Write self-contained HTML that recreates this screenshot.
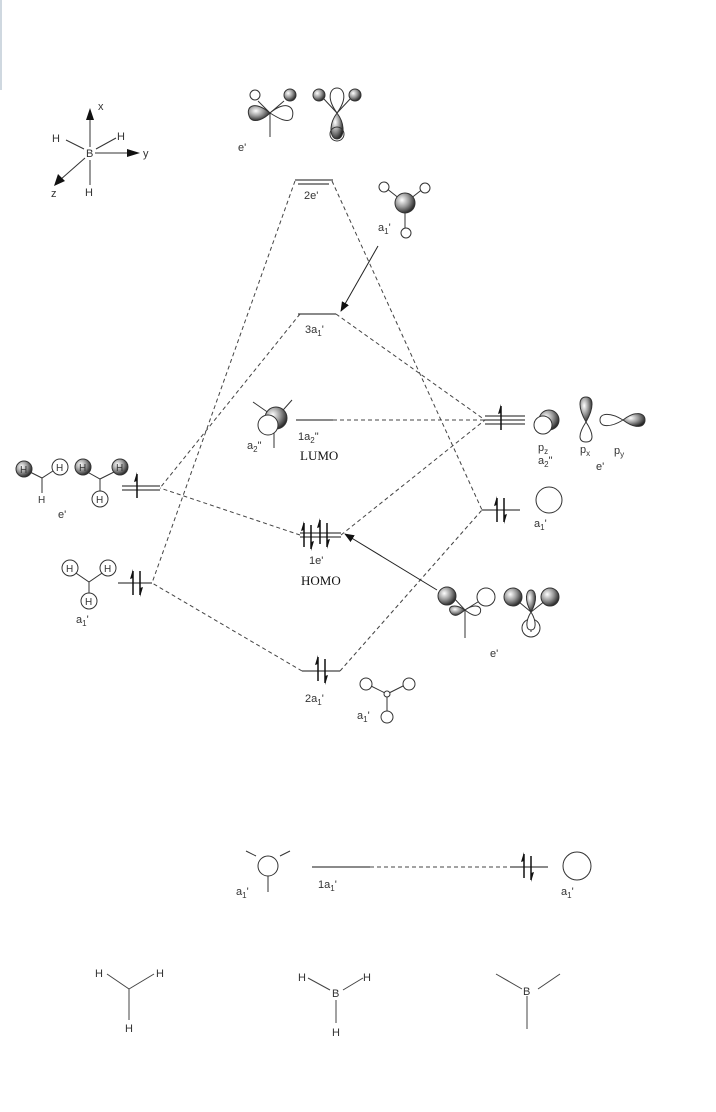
<!DOCTYPE html>
<html><head><meta charset="utf-8"><style>
html,body{margin:0;padding:0;background:#fff;}
svg{display:block;}
text{font-family:"Liberation Sans",sans-serif;font-size:11px;fill:#333;}
.s{font-family:"Liberation Serif",serif;font-size:13px;fill:#111;}
.sub{font-size:8px;}
</style></head><body>
<svg width="716" height="1112" viewBox="0 0 716 1112" xmlns="http://www.w3.org/2000/svg">
<defs>
<radialGradient id="g" cx="0.35" cy="0.35" r="0.7">
<stop offset="0" stop-color="#fff"/><stop offset="0.5" stop-color="#999"/><stop offset="1" stop-color="#222"/>
</radialGradient>
<marker id="ah" markerWidth="10" markerHeight="8" refX="9" refY="4" orient="auto" markerUnits="userSpaceOnUse">
<path d="M0,0 L10,4 L0,8 z" fill="#111"/></marker>
<g id="up"><line x1="0" y1="12" x2="0" y2="-12" stroke="#111" stroke-width="1.5"/><path d="M0,-14 L-3,-4 L0,-5 z" fill="#111"/></g>
<g id="dn"><line x1="0" y1="-12" x2="0" y2="12" stroke="#111" stroke-width="1.5"/><path d="M0,14 L3,4 L0,5 z" fill="#111"/></g>
</defs>
<rect x="0" y="0" width="2" height="90" fill="#cfd8e0"/>

<!-- axes -->
<g stroke="#333" stroke-width="1" fill="none">
<line x1="90" y1="147" x2="90" y2="118"/><line x1="95" y1="153" x2="130" y2="153"/>
<line x1="85" y1="158" x2="60" y2="180"/>
<line x1="66" y1="140" x2="84" y2="149"/><line x1="96" y1="149" x2="116" y2="138"/>
<line x1="90" y1="160" x2="90" y2="185"/>
</g>
<path d="M90,108 L86,120 L94,120z M140,153 L127,149 L127,157z M54,186 L58,174 L65,181z" fill="#111"/>
<text x="98" y="110">x</text><text x="143" y="157">y</text><text x="51" y="197">z</text>
<text x="52" y="142">H</text><text x="117" y="140">H</text><text x="86" y="157">B</text><text x="85" y="196">H</text>

<!-- dashed connectors -->
<g stroke="#444" stroke-width="1" stroke-dasharray="4,3" fill="none">
<line x1="295" y1="181" x2="152" y2="583"/>
<line x1="332" y1="181" x2="482" y2="510"/>
<line x1="300" y1="314" x2="160" y2="488"/>
<line x1="336" y1="314" x2="485" y2="420"/>
<line x1="333" y1="420" x2="485" y2="420"/>
<line x1="300" y1="535" x2="160" y2="488"/>
<line x1="341" y1="535" x2="485" y2="420"/>
<line x1="302" y1="671" x2="152" y2="583"/>
<line x1="340" y1="671" x2="482" y2="510"/>
<line x1="370" y1="867" x2="510" y2="867"/>
</g>

<!-- levels -->
<g stroke="#444" stroke-width="1.3" fill="none">
<line x1="295" y1="180" x2="333" y2="180"/><line x1="298" y1="184" x2="329" y2="184"/>
<line x1="298" y1="314" x2="336" y2="314"/>
<line x1="296" y1="420" x2="333" y2="420"/>
<line x1="485" y1="416" x2="525" y2="416"/><line x1="485" y1="420" x2="525" y2="420"/><line x1="485" y1="424" x2="525" y2="424"/>
<line x1="300" y1="533" x2="341" y2="533"/><line x1="300" y1="537" x2="341" y2="537"/>
<line x1="482" y1="510" x2="520" y2="510"/>
<line x1="302" y1="671" x2="340" y2="671"/>
<line x1="122" y1="486" x2="160" y2="486"/><line x1="122" y1="490" x2="160" y2="490"/>
<line x1="118" y1="583" x2="152" y2="583"/>
<line x1="312" y1="867" x2="370" y2="867"/>
<line x1="510" y1="867" x2="548" y2="867"/>
</g>

<!-- electrons -->
<use href="#up" x="501" y="418"/>
<use href="#up" x="137" y="486"/>
<use href="#up" x="133" y="583"/><use href="#dn" x="140" y="583"/>
<use href="#up" x="304" y="535"/><use href="#dn" x="311" y="537"/><use href="#up" x="320" y="532"/><use href="#dn" x="327" y="535"/>
<use href="#up" x="497" y="510"/><use href="#dn" x="504" y="510"/>
<use href="#up" x="318" y="669"/><use href="#dn" x="325" y="671"/>
<use href="#up" x="524" y="866"/><use href="#dn" x="531" y="868"/>

<!-- solid arrows -->
<line x1="378" y1="246" x2="341" y2="311" stroke="#222" stroke-width="1" marker-end="url(#ah)"/>
<line x1="437" y1="590" x2="345" y2="534" stroke="#222" stroke-width="1" marker-end="url(#ah)"/>

<!-- labels -->
<text x="304" y="199">2e'</text>
<text x="305" y="333">3a<tspan class="sub" dy="3">1</tspan><tspan dy="-3">'</tspan></text>
<text x="298" y="440">1a<tspan class="sub" dy="3">2</tspan><tspan dy="-3">"</tspan></text>
<text class="s" x="300" y="460">LUMO</text>
<text x="309" y="564">1e'</text>
<text class="s" x="301" y="585">HOMO</text>
<text x="305" y="702">2a<tspan class="sub" dy="3">1</tspan><tspan dy="-3">'</tspan></text>
<text x="318" y="888">1a<tspan class="sub" dy="3">1</tspan><tspan dy="-3">'</tspan></text>
<text x="238" y="151">e'</text>
<text x="378" y="231">a<tspan class="sub" dy="3">1</tspan><tspan dy="-3">'</tspan></text>
<text x="247" y="449">a<tspan class="sub" dy="3">2</tspan><tspan dy="-3">"</tspan></text>
<text x="58" y="518">e'</text>
<text x="76" y="623">a<tspan class="sub" dy="3">1</tspan><tspan dy="-3">'</tspan></text>
<text x="538" y="451">p<tspan class="sub" dy="3">z</tspan></text>
<text x="538" y="464">a<tspan class="sub" dy="3">2</tspan><tspan dy="-3">"</tspan></text>
<text x="580" y="453">p<tspan class="sub" dy="3">x</tspan></text>
<text x="614" y="454">p<tspan class="sub" dy="3">y</tspan></text>
<text x="596" y="470">e'</text>
<text x="534" y="527">a<tspan class="sub" dy="3">1</tspan><tspan dy="-3">'</tspan></text>
<text x="490" y="657">e'</text>
<text x="357" y="719">a<tspan class="sub" dy="3">1</tspan><tspan dy="-3">'</tspan></text>
<text x="236" y="895">a<tspan class="sub" dy="3">1</tspan><tspan dy="-3">'</tspan></text>
<text x="561" y="895">a<tspan class="sub" dy="3">1</tspan><tspan dy="-3">'</tspan></text>

<!-- orbitals: top e' -->
<g stroke="#333" stroke-width="1" fill="none">
<line x1="270" y1="113" x2="270" y2="137"/><line x1="270" y1="113" x2="258" y2="101"/><line x1="270" y1="113" x2="284" y2="101"/>
<path d="M270,113 C255,100 244,106 250,118 C255,124 265,118 270,113z" fill="url(#g)"/>
<path d="M270,113 C285,100 296,106 292,118 C288,124 278,118 270,113z" fill="#fff"/>
<circle cx="255" cy="95" r="5" fill="#fff"/><circle cx="290" cy="95" r="6" fill="url(#g)"/>
<line x1="337" y1="113" x2="323" y2="98"/><line x1="337" y1="113" x2="351" y2="98"/>
<path d="M337,113 C326,98 330,88 337,88 C344,88 348,98 337,113z" fill="#fff"/>
<path d="M337,113 C328,125 330,139 337,139 C344,139 346,125 337,113z" fill="url(#g)"/>
<circle cx="337" cy="134" r="7"/>
<circle cx="319" cy="95" r="6" fill="url(#g)"/><circle cx="355" cy="95" r="6" fill="url(#g)"/>
</g>
<!-- a1' top right -->
<g stroke="#333" stroke-width="1" fill="none">
<line x1="405" y1="203" x2="386" y2="188"/><line x1="405" y1="203" x2="424" y2="188"/><line x1="405" y1="203" x2="405" y2="228"/>
<circle cx="384" cy="187" r="5" fill="#fff"/><circle cx="425" cy="188" r="5" fill="#fff"/><circle cx="406" cy="233" r="5" fill="#fff"/>
<circle cx="405" cy="203" r="10" fill="url(#g)"/>
</g>
<!-- a2'' -->
<g stroke="#333" stroke-width="1" fill="none">
<line x1="276" y1="418" x2="253" y2="402"/><line x1="276" y1="418" x2="292" y2="400"/><line x1="274" y1="420" x2="274" y2="448"/>
<circle cx="276" cy="418" r="11" fill="url(#g)"/><circle cx="268" cy="425" r="10" fill="#fff"/>
</g>
<!-- pz px py -->
<g stroke="#333" stroke-width="1" fill="none">
<circle cx="549" cy="420" r="10" fill="url(#g)"/><circle cx="543" cy="425" r="9" fill="#fff"/>
<path d="M586,422 C578,408 578,397 586,397 C594,397 594,408 586,422z" fill="url(#g)"/>
<path d="M586,422 C578,434 578,442 586,442 C594,442 594,434 586,422z" fill="#fff"/>
<path d="M623,420 C610,412 600,413 600,420 C600,427 610,428 623,420z" fill="#fff"/>
<path d="M623,420 C636,410 645,413 645,420 C645,427 636,430 623,420z" fill="url(#g)"/>
<circle cx="549" cy="500" r="13"/>
</g>
<!-- H e' -->
<g stroke="#333" stroke-width="1" fill="none">
<polyline points="24,469 42,478 56,469"/><line x1="42" y1="478" x2="42" y2="493"/>
<polyline points="82,469 100,479 120,469"/><line x1="100" y1="479" x2="100" y2="493"/>
<circle cx="24" cy="469" r="8" fill="url(#g)"/><circle cx="60" cy="467" r="8" fill="#fff"/>
<circle cx="83" cy="467" r="8" fill="url(#g)"/><circle cx="120" cy="467" r="8" fill="url(#g)"/>
<circle cx="100" cy="499" r="8" fill="#fff"/>
<polyline points="70,569 89,582 108,569"/><line x1="89" y1="582" x2="89" y2="593"/>
<circle cx="70" cy="568" r="8" fill="#fff"/><circle cx="108" cy="568" r="8" fill="#fff"/><circle cx="89" cy="601" r="8" fill="#fff"/>
</g>
<g>
<text x="20" y="473" style="font-size:10px">H</text><text x="56" y="471" style="font-size:10px">H</text>
<text x="79" y="471" style="font-size:10px">H</text><text x="116" y="471" style="font-size:10px">H</text>
<text x="96" y="503" style="font-size:10px">H</text><text x="38" y="503" style="font-size:10px">H</text>
<text x="66" y="572" style="font-size:10px">H</text><text x="104" y="572" style="font-size:10px">H</text><text x="85" y="605" style="font-size:10px">H</text>
</g>
<!-- bottom e' -->
<g stroke="#333" stroke-width="1" fill="none">
<line x1="465" y1="610" x2="465" y2="638"/><line x1="465" y1="610" x2="452" y2="596"/><line x1="465" y1="610" x2="481" y2="600"/>
<path d="M465,610 C455,603 446,606 451,613 C455,618 460,614 465,610z" fill="url(#g)"/>
<path d="M465,610 C475,603 483,606 480,613 C476,618 470,614 465,610z" fill="#fff"/>
<circle cx="447" cy="596" r="9" fill="url(#g)"/><circle cx="486" cy="597" r="9" fill="#fff"/>
<line x1="531" y1="612" x2="513" y2="597"/><line x1="531" y1="612" x2="550" y2="597"/>
<circle cx="531" cy="628" r="9" fill="#fff"/><line x1="531" y1="612" x2="531" y2="632"/>
<path d="M531,612 C524,600 526,590 531,590 C536,590 538,600 531,612z" fill="url(#g)"/>
<path d="M531,612 C525,622 526,630 531,630 C536,630 537,622 531,612z" fill="#fff"/>
<circle cx="513" cy="597" r="9" fill="url(#g)"/><circle cx="550" cy="597" r="9" fill="url(#g)"/>
</g>
<!-- bottom a1' sigma -->
<g stroke="#333" stroke-width="1" fill="#fff">
<line x1="387" y1="694" x2="367" y2="684"/><line x1="387" y1="694" x2="407" y2="684"/><line x1="387" y1="694" x2="387" y2="712"/>
<circle cx="366" cy="684" r="6"/><circle cx="409" cy="684" r="6"/><circle cx="387" cy="717" r="6"/><circle cx="387" cy="694" r="3"/>
</g>
<!-- 1a1' pictures -->
<g stroke="#333" stroke-width="1" fill="none">
<line x1="256" y1="856" x2="246" y2="851"/><line x1="280" y1="856" x2="290" y2="851"/><line x1="268" y1="872" x2="268" y2="892"/>
<circle cx="268" cy="866" r="10" fill="#fff"/>
<circle cx="577" cy="866" r="14"/>
</g>
<!-- bottom molecules -->
<g stroke="#444" stroke-width="1" fill="none">
<line x1="107" y1="974" x2="129" y2="989"/><line x1="129" y1="989" x2="154" y2="974"/><line x1="129" y1="989" x2="129" y2="1020"/>
<line x1="308" y1="978" x2="330" y2="990"/><line x1="343" y1="990" x2="363" y2="978"/><line x1="336" y1="1000" x2="336" y2="1023"/>
<line x1="496" y1="974" x2="522" y2="989"/><line x1="538" y1="989" x2="560" y2="974"/><line x1="527" y1="996" x2="527" y2="1029"/>
</g>
<text x="95" y="977">H</text><text x="156" y="977">H</text><text x="125" y="1032">H</text>
<text x="298" y="981">H</text><text x="363" y="981">H</text><text x="332" y="997">B</text><text x="332" y="1036">H</text>
<text x="523" y="995">B</text>
</svg>
</body></html>
